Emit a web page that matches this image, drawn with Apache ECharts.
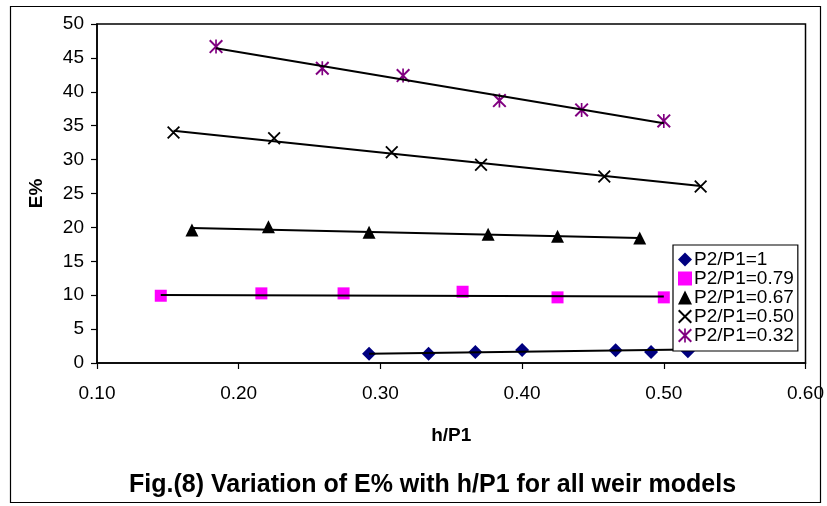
<!DOCTYPE html>
<html>
<head>
<meta charset="utf-8">
<script src="https://cdn.jsdelivr.net/npm/echarts@6/dist/echarts.min.js"></script>
<style>html,body{margin:0;padding:0;background:#fff;}#c{width:827px;height:506px;}</style>
</head>
<body>
<div id="c"></div>
<script>
// ---- data ----
const seriesNames = ['P2/P1=1', 'P2/P1=0.79', 'P2/P1=0.67', 'P2/P1=0.50', 'P2/P1=0.32'];
const xTicks = [0.10, 0.20, 0.30, 0.40, 0.50, 0.60];
const yTicks = [0, 5, 10, 15, 20, 25, 30, 35, 40, 45, 50];

const hP1_100 = [0.292, 0.334, 0.367, 0.400, 0.466, 0.491, 0.517];
const E_100   = [1.37, 1.37, 1.62, 1.92, 1.87, 1.62, 1.72];

const hP1_079 = [0.145, 0.216, 0.274, 0.358, 0.425, 0.500];
const E_079   = [9.92, 10.27, 10.27, 10.51, 9.68, 9.68];

const hP1_067 = [0.167, 0.221, 0.292, 0.376, 0.425, 0.483];
const E_067   = [19.6, 20.1, 19.3, 19.0, 18.7, 18.45];

const hP1_050 = [0.154, 0.225, 0.308, 0.371, 0.458, 0.526];
const E_050   = [34.0, 33.16, 31.09, 29.23, 27.51, 26.04];

const hP1_032 = [0.184, 0.259, 0.316, 0.384, 0.442, 0.500];
const E_032   = [46.67, 43.47, 42.39, 38.71, 37.33, 35.71];

// trendline end points: [x0, y0, x1, y1]
const trend_100 = [0.292, 1.37, 0.517, 2.0];
const trend_079 = [0.145, 10.02, 0.500, 9.8];
const trend_067 = [0.167, 19.9, 0.483, 18.45];
const trend_050 = [0.154, 34.24, 0.526, 26.1];
const trend_032 = [0.184, 46.42, 0.500, 35.37];

// ---- styling ----
const FONT = 'Liberation Sans, Arial, sans-serif';
const symX = 'path://M0,1 L1,0 L10,9 L9,10 Z M9,0 L10,1 L1,10 L0,9 Z';
const symStar = 'path://M0,1 L1,0 L10,9 L9,10 Z M9,0 L10,1 L1,10 L0,9 Z M4.4,0 L5.6,0 L5.6,10 L4.4,10 Z';

const pts = (xs, ys) => xs.map((x, i) => [x, ys[i]]);
const seg = t => [[t[0], t[1]], [t[2], t[3]]];

const scat = (name, xs, ys, symbol, color, size) => ({
  name, type: 'scatter', data: pts(xs, ys), symbol, symbolSize: size,
  itemStyle: { color, opacity: 1 }, z: 3
});
const tline = (t) => ({
  type: 'line', data: seg(t), showSymbol: false, symbol: 'none',
  lineStyle: { color: '#000', width: 2 }, z: 4, silent: true
});

const chart = echarts.init(document.getElementById('c'), null, { renderer: 'canvas' });
chart.setOption({
  animation: false,
  backgroundColor: '#fff',
  title: {
    text: 'Fig.(8) Variation of E% with h/P1 for all weir models',
    left: 124, top: 468,
    textStyle: { fontFamily: FONT, fontWeight: 'bold', fontSize: 25, color: '#000' }
  },
  grid: { left: 97, right: 20, top: 24, bottom: 143, show: true, borderColor: '#000', borderWidth: 1.5, backgroundColor: 'transparent' },
  legend: {
    orient: 'vertical', left: 673, top: 245,
    data: seriesNames,
    backgroundColor: '#fff', borderColor: '#000', borderWidth: 1.2,
    padding: [5, 4, 6, 5],
    itemWidth: 14, itemHeight: 14, itemGap: 0,
    textStyle: { fontFamily: FONT, fontSize: 19, color: '#000', padding: [0, 0, 0, -3] },
    z: 10
  },
  xAxis: {
    type: 'value', min: 0.1, max: 0.6, interval: 0.1,
    name: 'h/P1', nameLocation: 'middle', nameGap: 63,
    nameTextStyle: { fontFamily: FONT, fontWeight: 'bold', fontSize: 19, color: '#000' },
    axisLine: { lineStyle: { color: '#000', width: 1.5 } },
    axisTick: { show: true, length: 6, lineStyle: { color: '#000', width: 1.2 } },
    axisLabel: { fontFamily: FONT, fontSize: 19, color: '#000', margin: 21, formatter: v => v.toFixed(2) },
    splitLine: { show: false }
  },
  yAxis: {
    type: 'value', min: 0, max: 50, interval: 5,
    name: 'E%', nameLocation: 'middle', nameGap: 51, nameRotate: 90,
    nameTextStyle: { fontFamily: FONT, fontWeight: 'bold', fontSize: 19, color: '#000' },
    axisLine: { show: true, lineStyle: { color: '#000', width: 1.5 } },
    axisTick: { show: true, length: 6, lineStyle: { color: '#000', width: 1.2 } },
    axisLabel: { fontFamily: FONT, fontSize: 19, color: '#000', margin: 13 },
    splitLine: { show: false }
  },
  graphic: [{
    type: 'rect', left: 8, top: 4, z: -1,
    shape: { width: 810, height: 496 },
    style: { fill: 'none', stroke: '#000', lineWidth: 1.2 }
  }],
  series: [
    scat(seriesNames[0], hP1_100, E_100, 'diamond', '#000080', 14),
    scat(seriesNames[1], hP1_079, E_079, 'rect', '#FF00FF', 12),
    scat(seriesNames[2], hP1_067, E_067, 'triangle', '#000000', 13),
    scat(seriesNames[3], hP1_050, E_050, symX, '#000000', 13),
    scat(seriesNames[4], hP1_032, E_032, symStar, '#800080', 14),
    tline(trend_100), tline(trend_079), tline(trend_067), tline(trend_050), tline(trend_032)
  ]
});
</script>
</body>
</html>
